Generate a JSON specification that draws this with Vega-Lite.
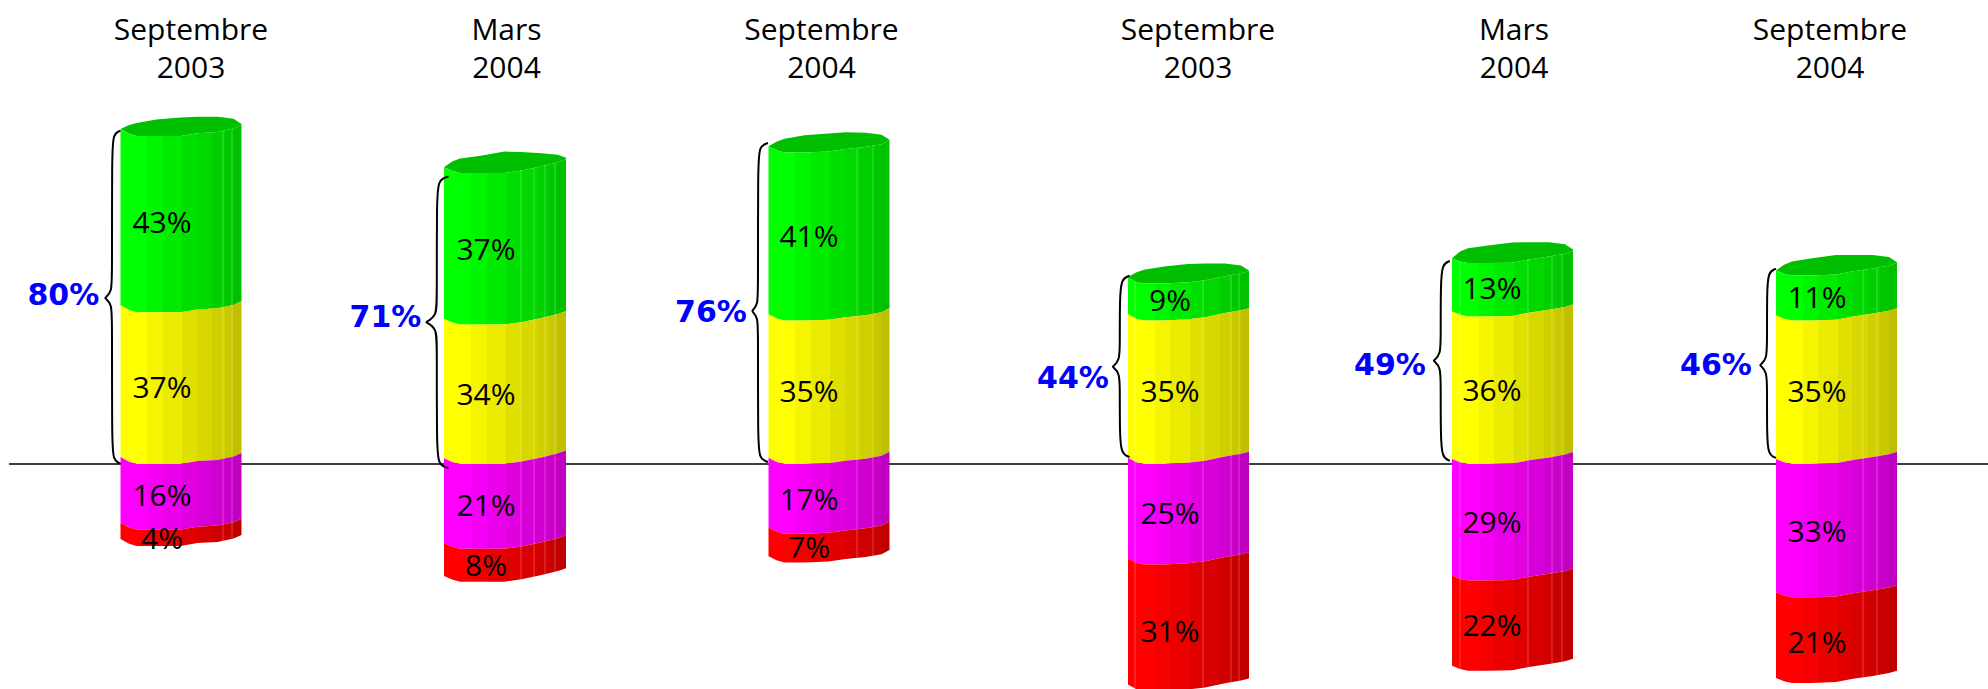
{"$schema":"https://vega.github.io/schema/vega-lite/v6.json","width":1988,"height":689,"padding":0,"autosize":{"type":"none"},"background":"white","config":{"view":{"stroke":null}},
"datasets":{
"bars":[
{"bar":1,"x":120.5,"cap":81.7,"top":81.7,"gy":38.7,"ym":1.7,"mr":-14.3,"bot":-18.3},
{"bar":1,"x":128.5,"cap":82.6,"top":80.6,"gy":37.6,"ym":0.6,"mr":-15.4,"bot":-19.4},
{"bar":1,"x":136.5,"cap":83.2,"top":80,"gy":37,"ym":0,"mr":-16,"bot":-20},
{"bar":1,"x":156.5,"cap":84,"top":80,"gy":37,"ym":0,"mr":-16,"bot":-20},
{"bar":1,"x":180.5,"cap":84.5,"top":80,"gy":37,"ym":0,"mr":-16,"bot":-20},
{"bar":1,"x":197.5,"cap":84.7,"top":80.7,"gy":37.7,"ym":0.7,"mr":-15.3,"bot":-19.3},
{"bar":1,"x":217.5,"cap":84.7,"top":81,"gy":38,"ym":1,"mr":-15,"bot":-19},
{"bar":1,"x":233.5,"cap":84.2,"top":81.8,"gy":38.8,"ym":1.8,"mr":-14.2,"bot":-18.2},
{"bar":1,"x":241.5,"cap":82.9,"top":82.7,"gy":39.7,"ym":2.7,"mr":-13.3,"bot":-17.3},
{"bar":2,"x":444,"cap":72.4,"top":72.4,"gy":35.4,"ym":1.4,"mr":-19.3,"bot":-27.3},
{"bar":2,"x":452,"cap":73.8,"top":71.5,"gy":34.5,"ym":0.5,"mr":-20.2,"bot":-28.2},
{"bar":2,"x":460,"cap":74.5,"top":71,"gy":34,"ym":0,"mr":-20.7,"bot":-28.7},
{"bar":2,"x":480.5,"cap":75.2,"top":71,"gy":34,"ym":0,"mr":-20.7,"bot":-28.7},
{"bar":2,"x":504.5,"cap":76.2,"top":71,"gy":34,"ym":0,"mr":-20.7,"bot":-28.7},
{"bar":2,"x":521.5,"cap":76.1,"top":71.6,"gy":34.6,"ym":0.6,"mr":-20.1,"bot":-28.1},
{"bar":2,"x":541.5,"cap":75.8,"top":72.6,"gy":35.6,"ym":1.6,"mr":-19.1,"bot":-27.1},
{"bar":2,"x":558,"cap":75.4,"top":73.6,"gy":36.6,"ym":2.6,"mr":-18.1,"bot":-26.1},
{"bar":2,"x":566,"cap":74.7,"top":74.3,"gy":37.3,"ym":3.3,"mr":-17.4,"bot":-25.4},
{"bar":3,"x":768.5,"cap":77.5,"top":77.5,"gy":36.5,"ym":1.5,"mr":-15.5,"bot":-22.5},
{"bar":3,"x":776.5,"cap":78.6,"top":76.5,"gy":35.5,"ym":0.5,"mr":-16.5,"bot":-23.5},
{"bar":3,"x":784.5,"cap":79.3,"top":76,"gy":35,"ym":0,"mr":-17,"bot":-24},
{"bar":3,"x":804.5,"cap":80.2,"top":76,"gy":35,"ym":0,"mr":-17,"bot":-24},
{"bar":3,"x":828.5,"cap":80.6,"top":76.2,"gy":35.2,"ym":0.2,"mr":-16.8,"bot":-23.8},
{"bar":3,"x":845.5,"cap":80.9,"top":76.8,"gy":35.8,"ym":0.8,"mr":-16.2,"bot":-23.2},
{"bar":3,"x":865.5,"cap":80.8,"top":77.3,"gy":36.3,"ym":1.3,"mr":-15.7,"bot":-22.7},
{"bar":3,"x":881.5,"cap":80.3,"top":78,"gy":37,"ym":2,"mr":-15,"bot":-22},
{"bar":3,"x":889.5,"cap":79.1,"top":79,"gy":38,"ym":3,"mr":-14,"bot":-21},
{"bar":4,"x":1128,"cap":45.6,"top":45.5,"gy":36.5,"ym":1.5,"mr":-23,"bot":-53.8},
{"bar":4,"x":1136,"cap":46.7,"top":44.4,"gy":35.4,"ym":0.4,"mr":-24.1,"bot":-54.9},
{"bar":4,"x":1144,"cap":47.4,"top":44,"gy":35,"ym":0,"mr":-24.5,"bot":-55.3},
{"bar":4,"x":1164,"cap":48.2,"top":44,"gy":35,"ym":0,"mr":-24.5,"bot":-55.3},
{"bar":4,"x":1188,"cap":48.8,"top":44.3,"gy":35.3,"ym":0.3,"mr":-24.2,"bot":-55},
{"bar":4,"x":1205,"cap":48.9,"top":44.8,"gy":35.8,"ym":0.8,"mr":-23.7,"bot":-54.5},
{"bar":4,"x":1225,"cap":48.9,"top":45.8,"gy":36.8,"ym":1.8,"mr":-22.7,"bot":-53.5},
{"bar":4,"x":1241,"cap":48.4,"top":46.5,"gy":37.5,"ym":2.5,"mr":-22,"bot":-52.8},
{"bar":4,"x":1249,"cap":47.2,"top":47,"gy":38,"ym":3,"mr":-21.5,"bot":-52.3},
{"bar":5,"x":1452,"cap":50.2,"top":50.2,"gy":37.2,"ym":1.2,"mr":-27.2,"bot":-49.2},
{"bar":5,"x":1460,"cap":51.8,"top":49.4,"gy":36.4,"ym":0.4,"mr":-28,"bot":-50},
{"bar":5,"x":1468,"cap":52.6,"top":49,"gy":36,"ym":0,"mr":-28.4,"bot":-50.4},
{"bar":5,"x":1488,"cap":53.3,"top":49,"gy":36,"ym":0,"mr":-28.4,"bot":-50.4},
{"bar":5,"x":1512,"cap":54,"top":49.1,"gy":36.1,"ym":0.1,"mr":-28.3,"bot":-50.3},
{"bar":5,"x":1529,"cap":54.1,"top":49.9,"gy":36.9,"ym":0.9,"mr":-27.5,"bot":-49.5},
{"bar":5,"x":1549,"cap":54.1,"top":50.6,"gy":37.6,"ym":1.6,"mr":-26.8,"bot":-48.8},
{"bar":5,"x":1565,"cap":53.6,"top":51.3,"gy":38.3,"ym":2.3,"mr":-26.1,"bot":-48.1},
{"bar":5,"x":1573,"cap":52.3,"top":51.9,"gy":38.9,"ym":2.9,"mr":-25.5,"bot":-47.5},
{"bar":6,"x":1776,"cap":47.2,"top":47.2,"gy":36.2,"ym":1.2,"mr":-31.3,"bot":-52.2},
{"bar":6,"x":1784,"cap":48.6,"top":46.4,"gy":35.4,"ym":0.4,"mr":-32.1,"bot":-53},
{"bar":6,"x":1792,"cap":49.4,"top":46,"gy":35,"ym":0,"mr":-32.5,"bot":-53.4},
{"bar":6,"x":1812,"cap":50.2,"top":46,"gy":35,"ym":0,"mr":-32.5,"bot":-53.4},
{"bar":6,"x":1836,"cap":51,"top":46.2,"gy":35.2,"ym":0.2,"mr":-32.3,"bot":-53.2},
{"bar":6,"x":1853,"cap":51,"top":47,"gy":36,"ym":1,"mr":-31.5,"bot":-52.4},
{"bar":6,"x":1873,"cap":51,"top":47.7,"gy":36.7,"ym":1.7,"mr":-30.8,"bot":-51.7},
{"bar":6,"x":1889,"cap":50.5,"top":48.4,"gy":37.4,"ym":2.4,"mr":-30.1,"bot":-51},
{"bar":6,"x":1897,"cap":49.2,"top":49,"gy":38,"ym":3,"mr":-29.5,"bot":-50.4}
],
"seams":[
{"x":223,"y":81.3,"y2":-18.8},{"x":232,"y":81.7,"y2":-18.3},
{"x":521,"y":71.6,"y2":-28.1},{"x":534,"y":72.2,"y2":-27.5},{"x":545,"y":72.9,"y2":-26.9},{"x":555,"y":73.4,"y2":-26.3},
{"x":857,"y":77,"y2":-23},{"x":873,"y":77.6,"y2":-22.4},
{"x":1135,"y":44.5,"y2":-54.8},{"x":1203,"y":44.8,"y2":-54.5},{"x":1231,"y":46,"y2":-53.2},{"x":1239,"y":46.4,"y2":-52.9},
{"x":1460,"y":49.4,"y2":-50},{"x":1528,"y":49.9,"y2":-49.5},{"x":1552,"y":50.7,"y2":-48.7},{"x":1562,"y":51.2,"y2":-48.2},
{"x":1863,"y":47.4,"y2":-52},{"x":1877,"y":47.9,"y2":-51.5}
],
"heads":[
{"x":191,"y":109.3,"label":"Septembre\n2003"},
{"x":506.5,"y":109.3,"label":"Mars\n2004"},
{"x":821.5,"y":109.3,"label":"Septembre\n2004"},
{"x":1198,"y":109.3,"label":"Septembre\n2003"},
{"x":1514,"y":109.3,"label":"Mars\n2004"},
{"x":1830,"y":109.3,"label":"Septembre\n2004"}
],
"pct":[
{"x":162,"y":58.8,"label":"43%"},{"x":162,"y":18.6,"label":"37%"},{"x":162,"y":-7.7,"label":"16%"},{"x":162,"y":-18.2,"label":"4%"},
{"x":486,"y":52.3,"label":"37%"},{"x":486,"y":17,"label":"34%"},{"x":486,"y":-10.2,"label":"21%"},{"x":486,"y":-24.7,"label":"8%"},
{"x":809,"y":55.4,"label":"41%"},{"x":809,"y":17.6,"label":"35%"},{"x":809,"y":-8.7,"label":"17%"},{"x":809,"y":-20.4,"label":"7%"},
{"x":1170,"y":39.9,"label":"9%"},{"x":1170,"y":17.6,"label":"35%"},{"x":1170,"y":-12.1,"label":"25%"},{"x":1170,"y":-40.8,"label":"31%"},
{"x":1492,"y":42.7,"label":"13%"},{"x":1492,"y":17.9,"label":"36%"},{"x":1492,"y":-14.2,"label":"29%"},{"x":1492,"y":-39.3,"label":"22%"},
{"x":1817,"y":40.5,"label":"11%"},{"x":1817,"y":17.6,"label":"35%"},{"x":1817,"y":-16.4,"label":"33%"},{"x":1817,"y":-43.6,"label":"21%"}
],
"totals":[
{"x":63.4,"y":41.1,"label":"80%"},{"x":385.5,"y":35.9,"label":"71%"},{"x":711,"y":37.1,"label":"76%"},
{"x":1073,"y":21,"label":"44%"},{"x":1390,"y":24.1,"label":"49%"},{"x":1716,"y":24.1,"label":"46%"}
],
"braces":[
{"bar":1,"o":1,"x":120.5,"y":81.3},{"bar":1,"o":2,"x":113,"y":80.6},{"bar":1,"o":3,"x":112,"y":75.2},{"bar":1,"o":4,"x":112,"y":46.6},{"bar":1,"o":5,"x":112,"y":42},{"bar":1,"o":6,"x":105,"y":40.5},{"bar":1,"o":7,"x":105,"y":40.5},{"bar":1,"o":8,"x":112,"y":39},{"bar":1,"o":9,"x":112,"y":34.4},{"bar":1,"o":10,"x":112,"y":6.2},{"bar":1,"o":11,"x":113,"y":0.8},{"bar":1,"o":12,"x":120.5,"y":0.1},
{"bar":2,"o":1,"x":448.6,"y":70.1},{"bar":2,"o":2,"x":438,"y":69.4},{"bar":2,"o":3,"x":436.8,"y":64},{"bar":2,"o":4,"x":436.8,"y":40.7},{"bar":2,"o":5,"x":436.8,"y":36.1},{"bar":2,"o":6,"x":426,"y":34.6},{"bar":2,"o":7,"x":426,"y":34.6},{"bar":2,"o":8,"x":436.8,"y":33.1},{"bar":2,"o":9,"x":436.8,"y":28.5},{"bar":2,"o":10,"x":436.8,"y":5.1},{"bar":2,"o":11,"x":438,"y":-0.3},{"bar":2,"o":12,"x":448.6,"y":-1},
{"bar":3,"o":1,"x":768,"y":78.3},{"bar":3,"o":2,"x":759,"y":77.6},{"bar":3,"o":3,"x":758,"y":72.2},{"bar":3,"o":4,"x":758,"y":43.4},{"bar":3,"o":5,"x":758,"y":38.8},{"bar":3,"o":6,"x":752,"y":37.3},{"bar":3,"o":7,"x":752,"y":37.3},{"bar":3,"o":8,"x":758,"y":35.8},{"bar":3,"o":9,"x":758,"y":31.2},{"bar":3,"o":10,"x":758,"y":6.6},{"bar":3,"o":11,"x":759,"y":1.2},{"bar":3,"o":12,"x":768,"y":0.5},
{"bar":4,"o":1,"x":1129.6,"y":45.9},{"bar":4,"o":2,"x":1121,"y":45.2},{"bar":4,"o":3,"x":1119.8,"y":39.8},{"bar":4,"o":4,"x":1119.8,"y":29.8},{"bar":4,"o":5,"x":1119.8,"y":25.2},{"bar":4,"o":6,"x":1112.6,"y":23.7},{"bar":4,"o":7,"x":1112.6,"y":23.7},{"bar":4,"o":8,"x":1119.8,"y":22.2},{"bar":4,"o":9,"x":1119.8,"y":17.6},{"bar":4,"o":10,"x":1119.8,"y":7.8},{"bar":4,"o":11,"x":1121,"y":2.4},{"bar":4,"o":12,"x":1129.6,"y":1.7},
{"bar":5,"o":1,"x":1449.8,"y":49.5},{"bar":5,"o":2,"x":1442,"y":48.8},{"bar":5,"o":3,"x":1440.7,"y":43.4},{"bar":5,"o":4,"x":1440.7,"y":31.3},{"bar":5,"o":5,"x":1440.7,"y":26.7},{"bar":5,"o":6,"x":1433.6,"y":25.2},{"bar":5,"o":7,"x":1433.6,"y":25.2},{"bar":5,"o":8,"x":1440.7,"y":23.7},{"bar":5,"o":9,"x":1440.7,"y":19.1},{"bar":5,"o":10,"x":1440.7,"y":6.9},{"bar":5,"o":11,"x":1442,"y":1.5},{"bar":5,"o":12,"x":1449.8,"y":0.8},
{"bar":6,"o":1,"x":1776,"y":47.6},{"bar":6,"o":2,"x":1768,"y":46.9},{"bar":6,"o":3,"x":1767,"y":41.5},{"bar":6,"o":4,"x":1767,"y":30.2},{"bar":6,"o":5,"x":1767,"y":25.6},{"bar":6,"o":6,"x":1760,"y":24.1},{"bar":6,"o":7,"x":1760,"y":24.1},{"bar":6,"o":8,"x":1767,"y":22.6},{"bar":6,"o":9,"x":1767,"y":18},{"bar":6,"o":10,"x":1767,"y":7.6},{"bar":6,"o":11,"x":1768,"y":2.2},{"bar":6,"o":12,"x":1776,"y":1.5}
]},
"layer":[
{"mark":{"type":"rule","color":"#000000","strokeWidth":1.5},"data":{"values":[{"x":9,"x2":1988,"y":0}]},"encoding":{"x":{"field":"x","type":"quantitative","scale":{"domain":[0,1988],"nice":false,"zero":false},"axis":null},"x2":{"field":"x2"},"y":{"field":"y","type":"quantitative","scale":{"domain":[-54.88,113.17],"nice":false,"zero":false},"axis":null}}},
{"data":{"name":"bars"},"mark":{"type":"area","orient":"vertical","clip":true,"color":"#00bf00"},"encoding":{"x":{"field":"x","type":"quantitative","axis":null},"y":{"field":"cap","type":"quantitative","axis":null},"y2":{"field":"top"},"detail":{"field":"bar"}}},
{"data":{"name":"bars"},"mark":{"type":"area","orient":"vertical","clip":true,"color":{"gradient":"linear","x1":0,"x2":1,"y1":0,"y2":0,"stops":[{"offset":0,"color":"#00ff00"},{"offset":0.22,"color":"#00ff00"},{"offset":0.22,"color":"#00f500"},{"offset":0.35,"color":"#00f500"},{"offset":0.35,"color":"#00eb00"},{"offset":0.51,"color":"#00eb00"},{"offset":0.51,"color":"#00e000"},{"offset":0.63,"color":"#00e000"},{"offset":0.63,"color":"#00d800"},{"offset":0.76,"color":"#00d800"},{"offset":0.76,"color":"#00d000"},{"offset":0.86,"color":"#00d000"},{"offset":0.86,"color":"#00c800"},{"offset":0.93,"color":"#00c800"},{"offset":0.93,"color":"#00c000"},{"offset":1,"color":"#00c000"}]}},"encoding":{"x":{"field":"x","type":"quantitative","axis":null},"y":{"field":"top","type":"quantitative","axis":null},"y2":{"field":"gy"},"detail":{"field":"bar"}}},
{"data":{"name":"bars"},"mark":{"type":"area","orient":"vertical","clip":true,"color":{"gradient":"linear","x1":0,"x2":1,"y1":0,"y2":0,"stops":[{"offset":0,"color":"#ffff00"},{"offset":0.22,"color":"#ffff00"},{"offset":0.22,"color":"#f5f500"},{"offset":0.35,"color":"#f5f500"},{"offset":0.35,"color":"#ebeb00"},{"offset":0.51,"color":"#ebeb00"},{"offset":0.51,"color":"#e0e000"},{"offset":0.63,"color":"#e0e000"},{"offset":0.63,"color":"#d8d800"},{"offset":0.76,"color":"#d8d800"},{"offset":0.76,"color":"#d0d000"},{"offset":0.86,"color":"#d0d000"},{"offset":0.86,"color":"#c8c800"},{"offset":0.93,"color":"#c8c800"},{"offset":0.93,"color":"#c0c000"},{"offset":1,"color":"#c0c000"}]}},"encoding":{"x":{"field":"x","type":"quantitative","axis":null},"y":{"field":"gy","type":"quantitative","axis":null},"y2":{"field":"ym"},"detail":{"field":"bar"}}},
{"data":{"name":"bars"},"mark":{"type":"area","orient":"vertical","clip":true,"color":{"gradient":"linear","x1":0,"x2":1,"y1":0,"y2":0,"stops":[{"offset":0,"color":"#ff00ff"},{"offset":0.22,"color":"#ff00ff"},{"offset":0.22,"color":"#f500f5"},{"offset":0.35,"color":"#f500f5"},{"offset":0.35,"color":"#eb00eb"},{"offset":0.51,"color":"#eb00eb"},{"offset":0.51,"color":"#e000e0"},{"offset":0.63,"color":"#e000e0"},{"offset":0.63,"color":"#d800d8"},{"offset":0.76,"color":"#d800d8"},{"offset":0.76,"color":"#d000d0"},{"offset":0.86,"color":"#d000d0"},{"offset":0.86,"color":"#c800c8"},{"offset":0.93,"color":"#c800c8"},{"offset":0.93,"color":"#c000c0"},{"offset":1,"color":"#c000c0"}]}},"encoding":{"x":{"field":"x","type":"quantitative","axis":null},"y":{"field":"ym","type":"quantitative","axis":null},"y2":{"field":"mr"},"detail":{"field":"bar"}}},
{"data":{"name":"bars"},"mark":{"type":"area","orient":"vertical","clip":true,"color":{"gradient":"linear","x1":0,"x2":1,"y1":0,"y2":0,"stops":[{"offset":0,"color":"#ff0000"},{"offset":0.22,"color":"#ff0000"},{"offset":0.22,"color":"#f50000"},{"offset":0.35,"color":"#f50000"},{"offset":0.35,"color":"#eb0000"},{"offset":0.51,"color":"#eb0000"},{"offset":0.51,"color":"#e00000"},{"offset":0.63,"color":"#e00000"},{"offset":0.63,"color":"#d80000"},{"offset":0.76,"color":"#d80000"},{"offset":0.76,"color":"#d00000"},{"offset":0.86,"color":"#d00000"},{"offset":0.86,"color":"#c80000"},{"offset":0.93,"color":"#c80000"},{"offset":0.93,"color":"#c00000"},{"offset":1,"color":"#c00000"}]}},"encoding":{"x":{"field":"x","type":"quantitative","axis":null},"y":{"field":"mr","type":"quantitative","axis":null},"y2":{"field":"bot"},"detail":{"field":"bar"}}},
{"data":{"name":"seams"},"mark":{"type":"rule","color":"#ffffff","opacity":0.25,"strokeWidth":1,"clip":true},"encoding":{"x":{"field":"x","type":"quantitative","axis":null},"y":{"field":"y","type":"quantitative","axis":null},"y2":{"field":"y2"}}},
{"data":{"name":"braces"},"mark":{"type":"line","interpolate":"basis","color":"#000000","strokeWidth":2},"encoding":{"x":{"field":"x","type":"quantitative","axis":null},"y":{"field":"y","type":"quantitative","axis":null},"detail":{"field":"bar"},"order":{"field":"o"}}},
{"data":{"name":"heads"},"mark":{"type":"text","font":"Open Sans","fontSize":30,"lineBreak":"\n","lineHeight":38,"baseline":"top","align":"center","color":"#000000"},"encoding":{"x":{"field":"x","type":"quantitative","axis":null},"y":{"field":"y","type":"quantitative","axis":null},"text":{"field":"label"}}},
{"data":{"name":"pct"},"mark":{"type":"text","font":"Open Sans","fontSize":30,"baseline":"middle","align":"center","dy":1.5,"color":"#000000"},"encoding":{"x":{"field":"x","type":"quantitative","axis":null},"y":{"field":"y","type":"quantitative","axis":null},"text":{"field":"label"}}},
{"data":{"name":"totals"},"mark":{"type":"text","font":"DejaVu Sans","fontWeight":"bold","fontSize":30,"baseline":"middle","align":"center","dy":1,"color":"#0000ff"},"encoding":{"x":{"field":"x","type":"quantitative","axis":null},"y":{"field":"y","type":"quantitative","axis":null},"text":{"field":"label"}}}
]}
